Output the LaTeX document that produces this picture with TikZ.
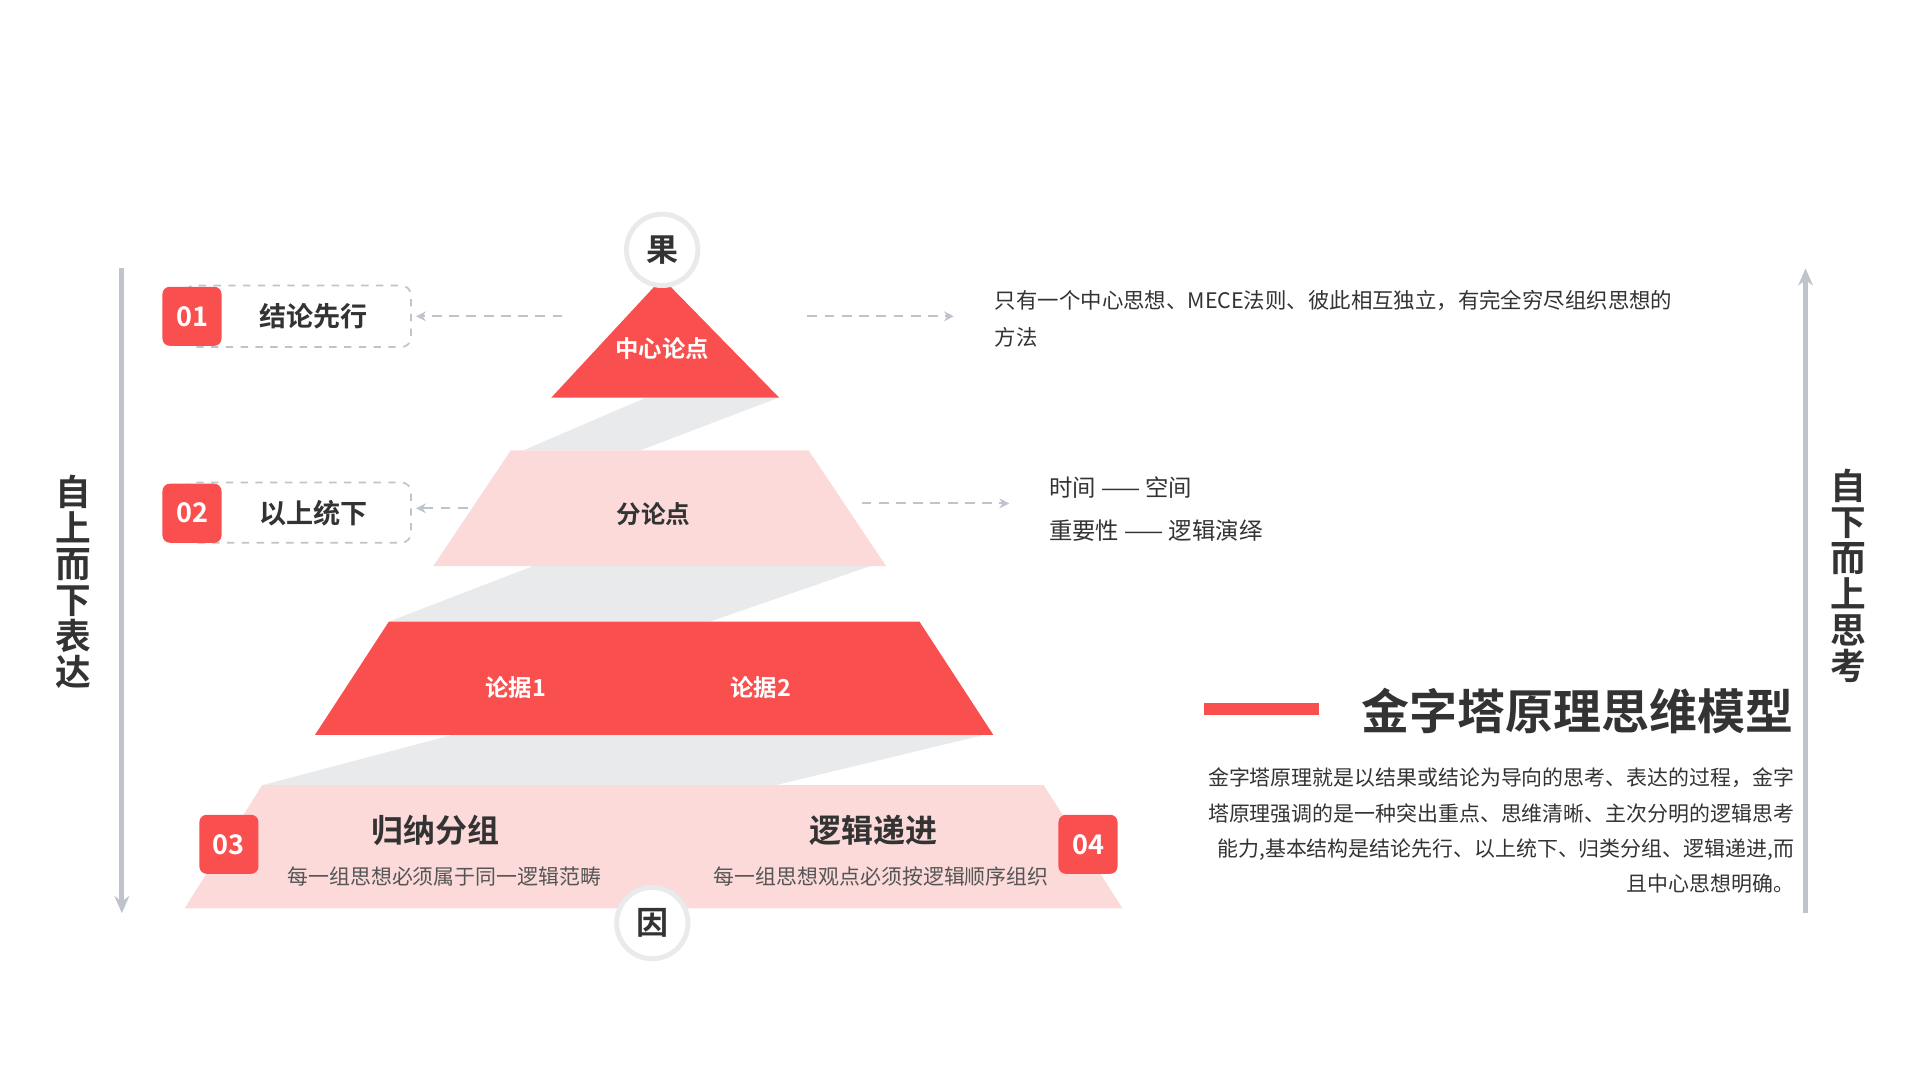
\documentclass[tikz,border=0pt]{standalone}
\usepackage{fontspec}
\setmainfont{Noto Sans CJK SC}[BoldFont={Noto Sans CJK SC Bold}]
\usetikzlibrary{arrows.meta}
\definecolor{myred}{HTML}{F94F4F}
\definecolor{mypink}{HTML}{FCDADA}
\definecolor{myband}{HTML}{E9EAEC}
\definecolor{mygray}{HTML}{BFC3CC}
\definecolor{mytext}{HTML}{333333}
\definecolor{mysub}{HTML}{555555}
\begin{document}
\begin{tikzpicture}[x=0.5pt,y=-0.5pt,
  badge/.style={fill=myred,rounded corners=3pt,minimum width=24pt,minimum height=24pt,text=white,font=\bfseries\fontsize{11}{13}\selectfont,inner sep=0},
  dbox/.style={draw=mygray,dashed,line width=0.7pt,rounded corners=4pt},
  darr/.style={draw=mygray,dashed,line width=0.9pt,dash pattern=on 4pt off 3pt,-{Stealth[length=4pt,width=4pt]}},
  circ/.style={circle,fill=white,draw=myband,line width=2pt,minimum size=29pt,inner sep=0,font=\bfseries\fontsize{13}{15}\selectfont,text=mytext},
  lbl/.style={font=\bfseries\fontsize{11}{13}\selectfont,text=mytext},
  wl/.style={font=\bfseries\fontsize{9.5}{11}\selectfont,text=white},
  body/.style={font=\fontsize{8.5}{10}\selectfont,text=mytext,inner sep=0},
  vtxt/.style={font=\bfseries\fontsize{14.5}{14.6}\selectfont,text=mytext,align=center,inner sep=0}]
\useasboundingbox (0,0) rectangle (1560,877.5);
% bands
\fill[myband] (525,323) -- (633,323) -- (520,366) -- (425,366) -- cycle;
\fill[myband] (433,460) -- (707,460) -- (577,505) -- (316,505) -- cycle;
\fill[myband] (368,597) -- (800,597) -- (630,638) -- (213,638) -- cycle;
% layers
\fill[myred] (538,226) -- (633,323) -- (448,323) -- cycle;
\fill[mypink] (415,366) -- (657,366) -- (720,460) -- (352,460) -- cycle;
\fill[myred] (316,505) -- (747,505) -- (807,597) -- (256,597) -- cycle;
\fill[mypink] (213,638) -- (848,638) -- (912,738) -- (150,738) -- cycle;
\node[wl] (c1) at (538,283) {中心论点};
\node[lbl,font=\bfseries\fontsize{10}{12}\selectfont] (c2) at (531,418) {分论点};
\node[wl] (c3a) at (419,559) {论据1};
\node[wl] (c3b) at (618,559) {论据2};
\node[lbl,font=\bfseries\fontsize{13}{15}\selectfont] (g1) at (354,675) {归纳分组};
\node[body,text=mysub] (g1s) at (361,712) {每一组思想必须属于同一逻辑范畴};
\node[lbl,font=\bfseries\fontsize{13}{15}\selectfont] (g2) at (710,675) {逻辑递进};
\node[body,text=mysub] (g2s) at (716,712) {每一组思想观点必须按逻辑顺序组织};
\node[circ] (guo) at (538,203) {果};
\node[circ] (yin) at (530,750) {因};
% left/right arrows
\coordinate (la1) at (99,218); \coordinate (la2) at (99,742);
\draw[mygray,line width=2pt,-{Stealth[length=7pt,width=6pt]}] (la1) -- (la2);
\coordinate (ra1) at (1467,742); \coordinate (ra2) at (1467,218);
\draw[mygray,line width=2pt,-{Stealth[length=7pt,width=6pt]}] (ra1) -- (ra2);
\node[vtxt] (lt) at (60,473) {自\\上\\而\\下\\表\\达};
\node[vtxt] (rt) at (1502,468) {自\\下\\而\\上\\思\\考};
% badges and boxes
\draw[dbox] (150,232) rectangle (334,282);
\node[lbl] (t1) at (255,257) {结论先行};
\node[badge] (b1) at (156,257) {01};
\draw[dbox] (150,392) rectangle (334,441);
\node[lbl] (t2) at (255,417) {以上统下};
\node[badge] (b2) at (156,417) {02};
\node[badge] (b3) at (186,686) {03};
\node[badge] (b4) at (884,686) {04};
% dashed arrows
\coordinate (d1a) at (457,257); \coordinate (d1b) at (338,257);
\coordinate (d2a) at (656,257); \coordinate (d2b) at (775,257);
\coordinate (d3a) at (380,413); \coordinate (d3b) at (338,413);
\coordinate (d4a) at (700,409); \coordinate (d4b) at (820,409);
\draw[darr] (d1a) -- (d1b);
\draw[darr] (d2a) -- (d2b);
\draw[darr] (d3a) -- (d3b);
\draw[darr] (d4a) -- (d4b);
% right texts
\node[body,anchor=west,font=\fontsize{8.7}{10}\selectfont] (r1) at (808,244) {只有一个中心思想、MECE法则、彼此相互独立，有完全穷尽组织思想的};
\node[body,anchor=west,font=\fontsize{8.7}{10}\selectfont] (r2) at (808,274) {方法};
\node[body,anchor=west,font=\fontsize{9.5}{11}\selectfont] (r3) at (852,396) {时间 —— 空间};
\node[body,anchor=west,font=\fontsize{9.5}{11}\selectfont] (r4) at (852,431) {重要性 —— 逻辑演绎};
\fill[myred] (978,571) rectangle (1072,581);
\node[anchor=east,inner sep=0,font=\bfseries\fontsize{19.5}{22}\selectfont,text=mytext] (title) at (1458,578) {金字塔原理思维模型};
\node[body,anchor=east] (p1) at (1458,632) {金字塔原理就是以结果或结论为导向的思考、表达的过程，金字};
\node[body,anchor=east] (p2) at (1458,661) {塔原理强调的是一种突出重点、思维清晰、主次分明的逻辑思考};
\node[body,anchor=east] (p3) at (1458,690) {能力,基本结构是结论先行、以上统下、归类分组、逻辑递进,而};
\node[body,anchor=east] (p4) at (1458,718) {且中心思想明确。};
\end{tikzpicture}
\end{document}
